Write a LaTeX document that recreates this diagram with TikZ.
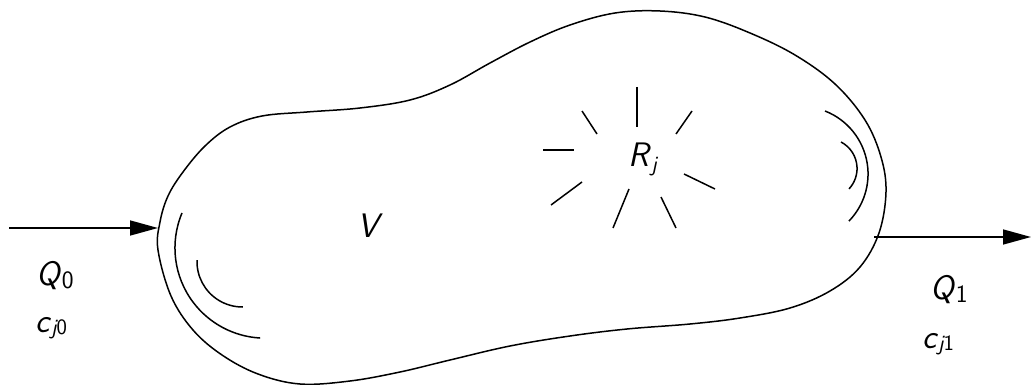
\documentclass[tikz,border=0pt]{standalone}
\usepackage{fontspec}
\usetikzlibrary{arrows.meta}
\newcommand\mainit[1]{\textit{#1}}
\newcommand\subup[2]{\raisebox{#1}{\fontsize{25}{28}\selectfont #2}}
\newcommand\subsm[2]{\raisebox{#1}{\fontsize{22}{25}\selectfont #2}}
\tikzset{
  outline/.style={line width=1.5pt},
  flow/.style={line width=1.5pt,-{Triangle[length=28pt,width=15pt]}},
  ray/.style={line width=1.5pt},
  lbl/.style={font=\fontsize{34}{39}\selectfont\sffamily, inner sep=0pt}
}
\begin{document}
\begin{tikzpicture}[x=1pt,y=-1pt]
\useasboundingbox (0,0) rectangle (1031,385);
% vessel outline
\draw[outline] plot[smooth cycle, tension=0.6] coordinates {
 (158,250) (160,222) (168,196) (183,172) (205,146) (230,127) (262,116)
 (307,112) (360,108) (410,100) (450,85) (490,63) (530,42) (570,25)
 (615,13) (660,11) (705,17) (750,33) (795,55) (835,84) (865,120)
 (881,157) (886,192) (879,233) (860,267) (830,291) (790,308) (740,318)
 (690,324) (627,329) (570,336) (510,346) (450,360) (400,372) (350,381)
 (300,384) (258,374) (222,355) (193,330) (171,296)};
% mixing arcs, left
\coordinate (la1) at (182,213);
\coordinate (la2) at (197,260);
\draw[outline] (la1) arc[start angle=202.8, end angle=93.2, radius=90.2];
\draw[outline] (la2) arc[start angle=181.9, end angle=89.4, radius=45.5];
% mixing arcs, right
\coordinate (ra1) at (825,111);
\coordinate (ra2) at (841,142);
\draw[outline] (ra1) arc[start angle=-68.7, end angle=44.2, radius=67.6];
\draw[outline] (ra2) arc[start angle=-62.4, end angle=43.0, radius=29.9];
% flows
\coordinate (inA) at (9,228);
\coordinate (inB) at (158,228);
\coordinate (outA) at (874,237);
\coordinate (outB) at (1031,237);
\draw[flow] (inA) -- (inB);
\draw[flow] (outA) -- (outB);
% reaction rays
\draw[ray] (637,87) -- (637,127);
\draw[ray] (582,111) -- (597,134);
\draw[ray] (692,111) -- (676,134);
\draw[ray] (543,150) -- (574,150);
\draw[ray] (582,182) -- (551,205);
\draw[ray] (629,189) -- (613,228);
\draw[ray] (661,197) -- (676,228);
\draw[ray] (684,174) -- (715,189);
% labels
\node[lbl, anchor=base west] (q0) at (36,285) {\mainit{Q}\subup{-3pt}{0}};
\node[lbl, anchor=base west] (c0) at (35,332) {\mainit{c}\subsm{-2pt}{\itshape j\upshape 0}};
\node[lbl, anchor=base west] (q1) at (930,299) {\mainit{Q}\subup{-3pt}{1}};
\node[lbl, anchor=base west] (c1) at (922,348) {\mainit{c}\subsm{-2pt}{\itshape j\upshape 1}};
\node[lbl, anchor=base west] (vol) at (357,237) {\mainit{V}};
\node[lbl, anchor=base west] (rj) at (628,167) {\mainit{R}\subsm{-5pt}{\itshape j}};
\end{tikzpicture}
\end{document}
